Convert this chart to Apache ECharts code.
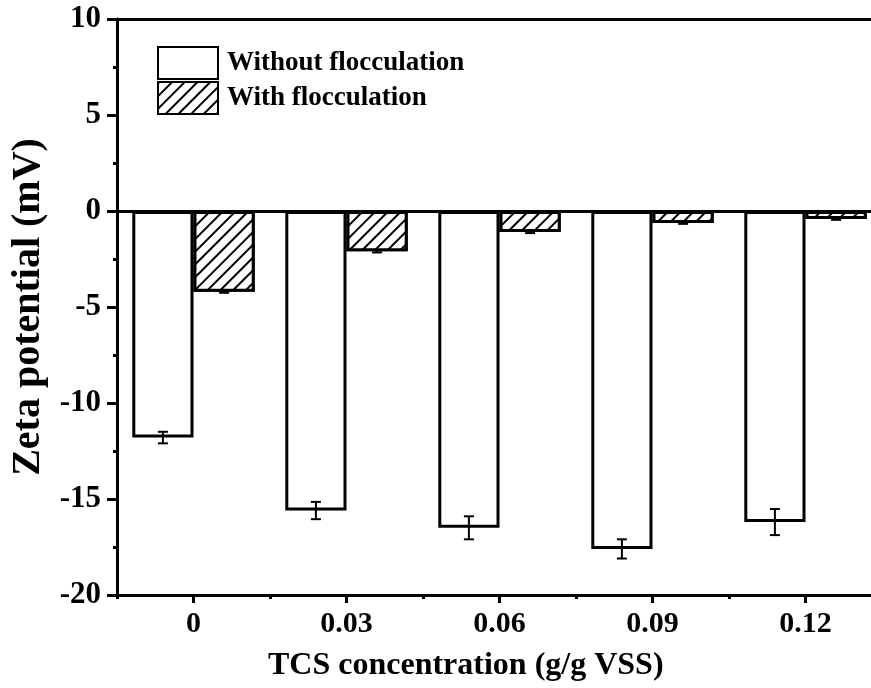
<!DOCTYPE html>
<html>
<head>
<meta charset="utf-8">
<script src="https://cdn.jsdelivr.net/npm/echarts@6/dist/echarts.min.js"></script>
<style>
html,body{margin:0;padding:0;background:#fff;}
#chart{width:871px;height:688px;}
</style>
</head>
<body>
<div id="chart"></div>
<script>
const categories = ['0', '0.03', '0.06', '0.09', '0.12'];
const withoutFloc = [-11.8, -15.6, -16.5, -17.6, -16.2];
const withoutErr = [0.3, 0.45, 0.6, 0.5, 0.68];
const withFloc = [-4.2, -2.1, -1.1, -0.63, -0.42];
const withErr = [0.06, 0.06, 0.05, 0.04, 0.04];
const yTicks = { min: -20, max: 10, interval: 5 };
const seriesNames = ['Without flocculation', 'With flocculation'];

const FONT = '"Liberation Serif", "Times New Roman", serif';
const chart = echarts.init(document.getElementById('chart'), null, { renderer: 'canvas' });

function errRenderer(offsetFrac) {
  return function (params, api) {
    const i = api.value(0), v = api.value(1), e = api.value(2);
    const c = api.coord([i, v]);
    const band = api.size([1, 0])[0];
    const x = c[0] + offsetFrac * band;
    const top = api.coord([i, v + e])[1];
    const bot = api.coord([i, v - e])[1];
    const hw = 5;
    const st = { stroke: '#000', lineWidth: 2 };
    return {
      type: 'group',
      children: [
        { type: 'line', shape: { x1: x, y1: top, x2: x, y2: bot }, style: st },
        { type: 'line', shape: { x1: x - hw, y1: top, x2: x + hw, y2: top }, style: st },
        { type: 'line', shape: { x1: x - hw, y1: bot, x2: x + hw, y2: bot }, style: st }
      ]
    };
  };
}

const hatch = {
  symbol: 'rect', symbolSize: 1,
  dashArrayX: [1, 0], dashArrayY: [1.5, 6.5],
  rotation: -Math.PI / 4,
  color: '#000', backgroundColor: '#fff'
};

const option = {
  backgroundColor: '#fff',
  animation: false,
  grid: { left: 117, top: 19, width: 765, height: 576, containLabel: false, outerBoundsMode: 'none' },
  legend: {
    orient: 'vertical', left: 157, top: 46, padding: 0,
    itemWidth: 60, itemHeight: 32, itemGap: 1,
    icon: 'rect',
    textStyle: { fontFamily: FONT, fontWeight: 'bold', fontSize: 27, color: '#000', padding: [0, 0, 0, 4] },
    data: seriesNames
  },
  xAxis: [
    {
      type: 'category', data: categories, position: 'bottom',
      axisLine: { show: true, onZero: false, lineStyle: { color: '#000', width: 3 } },
      axisTick: { show: true, alignWithLabel: true, length: 8, lineStyle: { color: '#000', width: 3 } },
      axisLabel: { margin: 14, fontFamily: FONT, fontWeight: 'bold', fontSize: 30, color: '#000' },
      splitLine: { show: false }
    },
    {
      type: 'category', data: categories, position: 'bottom',
      axisLine: { show: false, onZero: false },
      axisTick: { show: true, alignWithLabel: false, length: 4, lineStyle: { color: '#000', width: 3 } },
      axisLabel: { show: false },
      splitLine: { show: false }
    },
    {
      type: 'category', data: categories, position: 'top',
      axisLine: { show: true, onZero: false, lineStyle: { color: '#000', width: 3 } },
      axisTick: { show: false }, axisLabel: { show: false }, splitLine: { show: false }
    }
  ],
  yAxis: {
    type: 'value', min: yTicks.min, max: yTicks.max, interval: yTicks.interval,
    name: 'Zeta potential (mV)', nameLocation: 'middle', nameGap: 67,
    nameTextStyle: { fontFamily: FONT, fontWeight: 'bold', fontSize: 40, color: '#000' },
    axisLine: { show: true, onZero: false, lineStyle: { color: '#000', width: 3 } },
    axisTick: { show: true, length: 10, lineStyle: { color: '#000', width: 3 } },
    minorTick: { show: true, splitNumber: 2, length: 4, lineStyle: { color: '#000', width: 3 } },
    axisLabel: { margin: 16, fontFamily: FONT, fontWeight: 'bold', fontSize: 31, color: '#000' },
    splitLine: { show: false }
  },
  graphic: [
    {
      type: 'text', left: 268, top: 650,
      style: { text: 'TCS concentration (g/g VSS)', font: 'bold 32px ' + FONT, fill: '#000' }
    }
  ],
  series: [
    {
      name: seriesNames[0], type: 'bar', xAxisIndex: 0, data: withoutFloc,
      barGap: '0%', barCategoryGap: '20%',
      itemStyle: { color: '#fff', borderColor: '#000', borderWidth: 3 },
      markLine: {
        silent: true, symbol: 'none', label: { show: false },
        lineStyle: { color: '#000', width: 3, type: 'solid' },
        data: [{ yAxis: 0 }]
      },
      z: 2
    },
    {
      name: seriesNames[1], type: 'bar', xAxisIndex: 0, data: withFloc,
      barGap: '0%', barCategoryGap: '20%',
      itemStyle: { color: '#fff', borderColor: '#000', borderWidth: 3, decal: hatch },
      z: 2
    },
    {
      type: 'custom', xAxisIndex: 0, renderItem: errRenderer(-0.2),
      data: withoutFloc.map((v, i) => [i, v, withoutErr[i]]),
      encode: { x: 0, y: 1 }, z: 5, silent: true
    },
    {
      type: 'custom', xAxisIndex: 0, renderItem: errRenderer(0.2),
      data: withFloc.map((v, i) => [i, v, withErr[i]]),
      encode: { x: 0, y: 1 }, z: 5, silent: true
    }
  ]
};
chart.setOption(option);
</script>
</body>
</html>
